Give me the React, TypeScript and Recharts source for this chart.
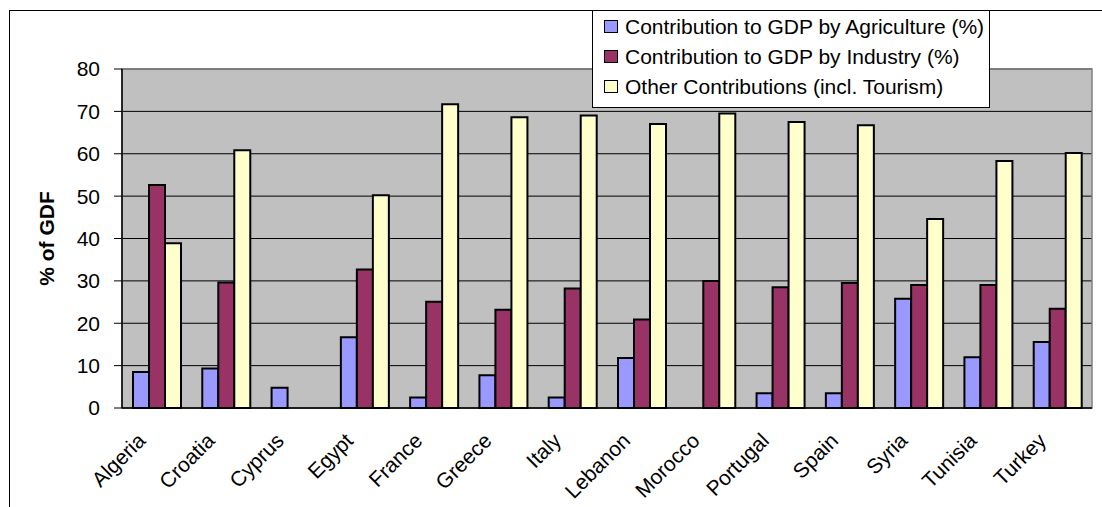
import React from 'react';
import { BarChart, Bar, XAxis, YAxis, CartesianGrid, usePlotArea } from 'recharts';

const countries = [
  'Algeria', 'Croatia', 'Cyprus', 'Egypt', 'France', 'Greece', 'Italy',
  'Lebanon', 'Morocco', 'Portugal', 'Spain', 'Syria', 'Tunisia', 'Turkey',
];
const agriculture = [8.5, 9.3, 4.8, 16.7, 2.5, 7.7, 2.5, 11.8, null, 3.5, 3.5, 25.8, 12.0, 15.6];
const industry = [52.6, 29.6, null, 32.7, 25.1, 23.2, 28.2, 20.9, 30.0, 28.5, 29.5, 29.0, 29.0, 23.4];
const other = [38.9, 60.8, null, 50.2, 71.7, 68.6, 69.0, 67.0, 69.5, 67.5, 66.7, 44.6, 58.3, 60.2];
const yTicks = [0, 10, 20, 30, 40, 50, 60, 70, 80];

const series = [
  { key: 'agriculture', name: 'Contribution to GDP by Agriculture (%)', color: '#9999FF' },
  { key: 'industry', name: 'Contribution to GDP by Industry (%)', color: '#993366' },
  { key: 'other', name: 'Other Contributions (incl. Tourism)', color: '#FFFFCC' },
];

const data = countries.map((country, i) => ({
  country,
  agriculture: agriculture[i],
  industry: industry[i],
  other: other[i],
}));

const FONT = "Arial, 'Liberation Sans', sans-serif";

function PlotFrame() {
  const area = usePlotArea();
  if (!area) return null;
  return (
    <rect
      x={area.x}
      y={area.y}
      width={area.width}
      height={area.height}
      fill="none"
      stroke="#808080"
      strokeWidth={1.5}
    />
  );
}

function CountryTick(props: any) {
  const { x, y, payload } = props;
  const tx = x - 10;
  const ty = y + 34;
  return (
    <text
      x={tx}
      y={ty}
      textAnchor="end"
      fontSize={21}
      fontFamily={FONT}
      fill="#000"
      transform={`rotate(-45, ${tx}, ${ty})`}
    >
      {payload.value}
    </text>
  );
}

export default function App() {
  return (
    <div
      style={{
        position: 'absolute',
        left: 0,
        top: 0,
        width: 1102,
        height: 507,
        overflow: 'hidden',
        background: '#fff',
        fontFamily: FONT,
      }}
    >
      <div
        style={{
          position: 'absolute',
          left: 9,
          top: 10,
          width: 1200,
          height: 600,
          border: '1px solid #000',
        }}
      />
      <div style={{ position: 'absolute', left: 0, top: 0 }}>
        <BarChart
          width={1102}
          height={507}
          data={data}
          margin={{ top: 69, right: 10, left: 0, bottom: 0 }}
          barGap={0}
          barSize={16}
        >
          <CartesianGrid fill="#C0C0C0" vertical={false} stroke="#000" strokeWidth={1} />
          <PlotFrame />
          <XAxis
            dataKey="country"
            height={99}
            interval={0}
            tickLine={false}
            tickSize={0}
            tickMargin={0}
            axisLine={{ stroke: '#000', strokeWidth: 1.5 }}
            tick={<CountryTick />}
          />
          <YAxis
            width={122}
            domain={[0, 80]}
            ticks={yTicks}
            interval={0}
            tickSize={8}
            tickMargin={14}
            axisLine={{ stroke: '#000', strokeWidth: 1.5 }}
            tickLine={{ stroke: '#000' }}
            tick={{ fontSize: 21, fontFamily: FONT, fill: '#000' }}
            label={{
              value: '% of GDF',
              angle: -90,
              position: 'center',
              dx: -14,
              style: { fontSize: 21, fontWeight: 'bold', fontFamily: FONT, fill: '#000' },
            }}
          />
          {series.map((s) => (
            <Bar
              key={s.key}
              dataKey={s.key}
              name={s.name}
              fill={s.color}
              stroke="#000"
              strokeWidth={2}
              isAnimationActive={false}
            />
          ))}
        </BarChart>
      </div>
      <div
        style={{
          position: 'absolute',
          left: 592,
          top: 10,
          width: 396,
          height: 96,
          border: '1px solid #000',
          background: '#fff',
          boxSizing: 'content-box',
        }}
      >
        {series.map((s, i) => (
          <div
            key={s.key}
            style={{
              position: 'absolute',
              left: 11,
              top: 1 + i * 30,
              height: 29,
              lineHeight: '29px',
              fontSize: 21,
              whiteSpace: 'nowrap',
              display: 'flex',
              alignItems: 'center',
            }}
          >
            <span
              style={{
                display: 'inline-block',
                width: 12,
                height: 11,
                background: s.color,
                border: '1px solid #000',
                marginRight: 7,
              }}
            />
            <span>{s.name}</span>
          </div>
        ))}
      </div>
    </div>
  );
}
